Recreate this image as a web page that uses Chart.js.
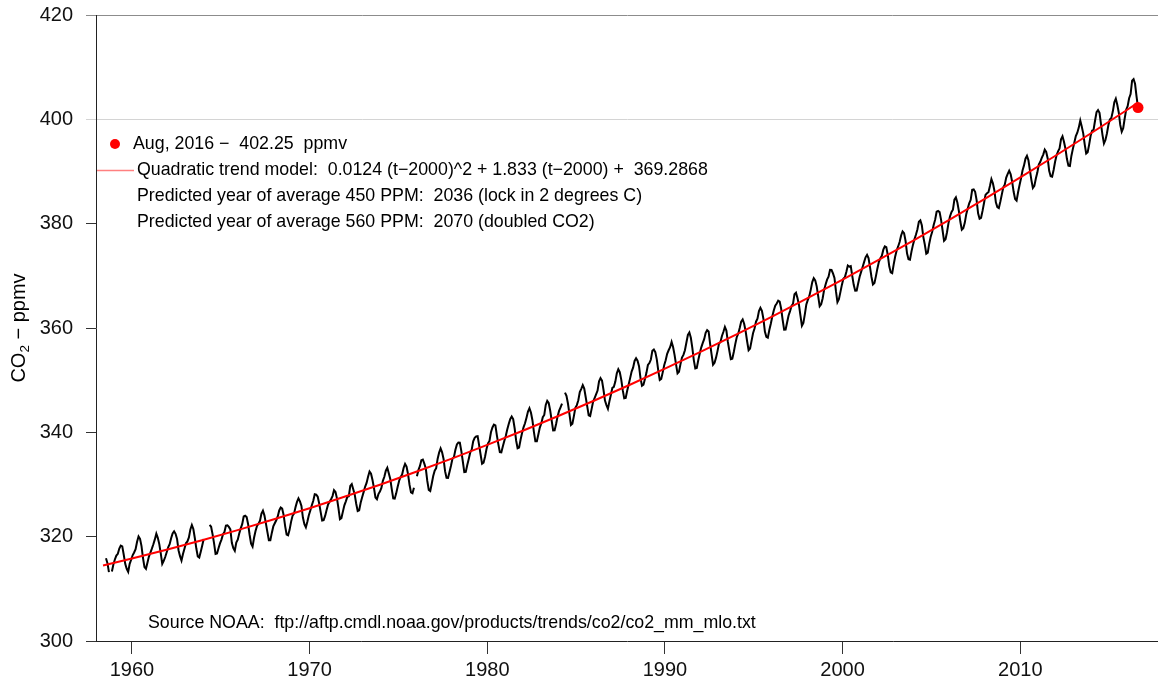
<!DOCTYPE html>
<html><head><meta charset="utf-8">
<script src="https://cdn.jsdelivr.net/npm/chart.js@4"></script>
<style>html,body{margin:0;padding:0;background:#fff;overflow:hidden}</style>
</head><body>
<canvas id="c" width="1158" height="686"></canvas>
<script>
// ---- data: Mauna Loa monthly mean CO2 (ppmv), starting Jul 1958; null = missing month
const firstYear = 1958, firstMonth = 7;
const co2_1958_59 = [315.86,314.93,313.20,null,313.33,314.67,
 315.62,316.38,316.71,317.72,318.29,318.15,316.54,314.80,313.84,313.26,314.80,315.58];
const co2_1960s = [
 316.43,316.97,317.58,319.02,320.03,319.59,318.18,315.91,314.16,313.83,315.00,316.19,
 316.93,317.70,318.54,319.48,320.58,319.77,318.57,316.79,314.80,315.38,316.10,317.01,
 317.94,318.56,319.68,320.63,321.01,320.55,319.58,317.40,316.26,315.42,316.69,317.69,
 318.74,319.08,319.86,321.39,322.25,321.47,319.74,317.77,316.21,315.99,317.12,318.31,
 319.57,null,null,null,322.24,321.89,320.44,318.70,316.70,316.79,317.79,318.71,
 319.44,320.44,320.89,322.13,322.16,321.87,321.39,318.81,317.81,317.30,318.87,319.42,
 320.62,321.59,322.39,323.87,324.01,323.75,322.39,320.37,318.64,318.10,319.79,321.08,
 322.07,322.50,323.04,324.42,325.00,324.09,322.55,320.92,319.31,319.31,320.72,321.96,
 322.57,323.15,323.89,325.02,325.57,325.36,324.14,322.03,320.41,320.25,321.31,322.84,
 324.00,324.42,325.64,326.66,327.34,326.76,325.88,323.67,322.38,321.78,322.85,324.11];
const co2_1970s = [
 325.03,325.99,326.87,328.13,328.07,327.66,326.35,324.69,323.10,323.16,323.98,325.13,
 326.17,326.68,327.18,327.78,328.92,328.57,327.34,325.46,323.36,323.57,324.80,326.01,
 326.77,327.63,327.75,329.72,330.07,329.09,328.05,326.32,324.93,325.06,326.50,327.55,
 328.54,329.56,330.30,331.50,332.48,332.07,330.87,329.31,327.51,327.18,328.16,328.64,
 329.35,330.71,331.48,332.65,333.20,332.16,331.07,329.12,327.32,327.28,328.30,329.58,
 330.73,331.46,331.90,333.17,333.94,333.45,331.97,329.95,328.50,328.34,329.37,null,
 331.59,332.75,333.52,334.64,334.77,334.00,333.06,330.68,328.95,328.75,330.15,331.62,
 332.66,333.13,334.95,336.13,336.93,336.17,334.88,332.56,331.29,331.27,332.41,333.60,
 334.95,335.25,336.66,337.69,338.03,338.01,336.41,334.41,332.37,332.41,333.75,334.90,
 336.14,336.69,338.27,338.96,339.21,339.26,337.54,335.75,333.98,334.19,335.31,336.81];
const co2_1980s = [
 337.90,338.34,340.01,340.93,341.48,341.33,339.40,337.70,336.19,336.15,337.27,338.32,
 339.29,340.55,341.61,342.53,343.03,342.54,340.78,338.44,336.95,337.08,338.58,339.88,
 340.96,341.73,342.81,343.97,344.63,343.79,342.32,340.09,338.28,338.29,339.60,340.90,
 341.68,342.90,343.33,345.25,346.03,345.63,344.19,342.27,340.35,340.38,341.59,343.05,
 344.10,344.79,345.52,null,347.63,346.98,345.53,343.55,341.40,341.67,343.10,344.70,
 345.21,346.16,347.74,348.34,349.06,348.38,346.72,345.02,343.27,343.13,344.49,345.88,
 346.56,347.28,348.01,349.77,350.38,349.93,348.16,346.08,345.22,344.51,345.93,347.22,
 348.52,348.73,349.73,351.31,352.09,351.53,350.11,348.08,346.52,346.59,347.96,349.16,
 350.39,351.64,352.41,353.69,354.21,353.72,352.69,350.40,348.92,349.13,350.20,351.41,
 352.91,353.27,353.96,355.64,355.86,355.37,353.99,351.81,350.05,350.25,351.49,352.85];
const co2_1990s = [
 353.80,355.04,355.73,356.32,357.32,356.34,354.84,353.01,351.31,351.62,353.07,354.33,
 354.84,355.73,357.23,358.66,359.13,358.13,356.19,353.85,352.25,352.35,353.81,355.12,
 356.25,357.11,357.86,359.09,359.59,359.33,357.01,354.94,352.96,353.32,354.32,355.57,
 357.00,357.31,358.47,359.27,360.19,359.52,357.33,355.64,354.03,354.12,355.41,356.91,
 358.24,358.92,359.99,361.23,361.65,360.81,359.38,357.46,355.73,356.07,357.53,358.98,
 359.92,361.21,361.77,363.23,363.86,363.30,361.78,359.33,358.32,358.14,359.61,360.82,
 362.20,363.36,364.28,364.69,365.25,365.06,363.69,361.55,359.69,359.72,361.04,362.39,
 363.24,364.21,364.65,366.49,366.77,365.73,364.46,362.40,360.44,360.98,362.65,364.51,
 365.39,366.10,367.36,368.79,369.56,369.13,367.98,366.10,364.16,364.54,365.67,367.30,
 368.35,369.28,369.84,371.15,371.12,370.46,369.61,367.06,364.95,365.52,366.88,368.26];
const co2_2000s = [
 369.45,369.71,370.75,371.98,371.75,371.87,370.02,368.27,367.15,367.18,368.53,369.83,
 370.76,371.69,372.63,373.55,374.03,373.40,371.68,369.78,368.34,368.61,369.94,371.42,
 372.70,373.37,373.85,375.02,375.65,375.50,374.00,371.83,370.66,370.51,372.20,373.71,
 374.87,375.63,376.48,377.74,378.50,378.18,376.72,374.31,373.20,373.10,374.64,375.93,
 377.00,377.87,378.88,380.35,380.62,379.69,377.47,376.01,374.25,374.46,376.16,377.51,
 378.46,379.73,380.77,382.29,382.45,382.21,380.74,378.74,376.70,377.00,378.35,380.11,
 381.38,382.19,382.67,384.61,385.03,384.05,382.46,380.41,378.85,379.13,380.15,381.82,
 382.89,383.90,384.58,386.50,386.56,386.10,384.50,381.99,380.96,381.12,382.45,383.95,
 385.52,385.82,386.03,387.21,388.54,387.76,386.36,384.09,383.18,382.99,384.19,385.56,
 386.94,387.48,388.82,389.55,390.14,389.48,388.03,386.11,384.74,384.43,386.02,387.42];
const co2_2010s = [
 388.71,390.20,391.17,392.46,393.00,392.15,390.20,388.35,386.85,387.24,388.67,389.79,
 391.33,391.86,392.60,393.25,394.19,393.74,392.51,390.13,389.08,389.00,390.28,391.86,
 393.12,393.86,394.40,396.18,396.74,395.71,394.36,392.39,391.11,391.05,392.98,394.34,
 395.55,396.80,397.43,398.41,399.78,398.61,397.32,395.20,393.45,393.70,395.16,396.84,
 397.85,398.01,399.77,401.38,401.78,401.25,399.10,397.03,395.38,396.03,397.28,398.91,
 399.98,400.28,401.54,403.28,403.96,402.80,401.31,398.93,397.63,398.29,400.16,401.85,
 402.52,404.04,404.83,407.42,407.70,406.81,404.39,402.25];

// quadratic trend curve values read at these dates
const trendX = [1958.375,1960,1962,1964,1966,1968,1970,1972,1974,1976,1978,1980,1982,1984,1986,1988,
 1990,1992,1994,1996,1998,2000,2002,2004,2006,2008,2010,2012,2014,2016,2016.625];
const trendY = [314.47,315.81,317.54,319.37,321.30,323.33,325.46,327.69,330.01,332.44,334.96,337.59,
 340.31,343.13,346.06,349.08,352.20,355.42,358.74,362.15,365.67,369.29,373.00,376.82,380.73,384.75,
 388.86,393.07,397.38,401.79,403.19];

const latestX = [2016.625], latestY = [402.25];
const xTicks = [1960,1970,1980,1990,2000,2010];
const yTicks = [300,320,340,360,380,400,420];

const legendLines = [
  "Aug, 2016 \u2212  402.25  ppmv",
  "Quadratic trend model:  0.0124 (t\u22122000)^2 + 1.833 (t\u22122000) +  369.2868",
  "Predicted year of average 450 PPM:  2036 (lock in 2 degrees C)",
  "Predicted year of average 560 PPM:  2070 (doubled CO2)"
];
const sourceText = "Source NOAA:  ftp://aftp.cmdl.noaa.gov/products/trends/co2/co2_mm_mlo.txt";

// ---- build
const series = [].concat(co2_1958_59, co2_1960s, co2_1970s, co2_1980s, co2_1990s, co2_2000s, co2_2010s);
const points = series.map((v, i) => {
  const m = firstMonth - 1 + i;
  return { x: firstYear + Math.floor(m / 12) + ((m % 12) + 0.5) / 12, y: v };
});
const trendPts = trendX.map((x, i) => ({ x, y: trendY[i] }));
const latestPts = latestX.map((x, i) => ({ x, y: latestY[i] }));

const FONT = '"Liberation Sans", Arial, Helvetica, sans-serif';

const annot = {
  id: 'annot',
  afterDraw(chart) {
    const ctx = chart.ctx;
    ctx.save();
    ctx.textBaseline = 'middle';
    ctx.textAlign = 'left';
    ctx.font = '17.8px ' + FONT;
    // legend
    ctx.beginPath();
    ctx.arc(115, 144, 5, 0, Math.PI * 2);
    ctx.fillStyle = '#ff0000';
    ctx.fill();
    ctx.strokeStyle = '#ff8080';
    ctx.lineWidth = 1.5;
    ctx.beginPath();
    ctx.moveTo(97, 170.5); ctx.lineTo(134, 170.5);
    ctx.stroke();
    ctx.fillStyle = '#000';
    ctx.fillText(legendLines[0], 133, 144);
    ctx.fillText(legendLines[1], 137, 170);
    ctx.fillText(legendLines[2], 137, 196);
    ctx.fillText(legendLines[3], 137, 222);
    ctx.fillText(sourceText, 148, 623);
    // y title with subscript
    ctx.translate(18, 328);
    ctx.rotate(-Math.PI / 2);
    const big = '20px ' + FONT, small = '13.5px ' + FONT;
    ctx.font = big; const w1 = ctx.measureText('CO').width;
    ctx.font = small; const w2 = ctx.measureText('2').width;
    ctx.font = big; const w3 = ctx.measureText(' \u2212 ppmv').width;
    let x0 = -(w1 + w2 + w3) / 2;
    ctx.textBaseline = 'alphabetic';
    ctx.font = big; ctx.fillText('CO', x0, 7);
    ctx.font = small; ctx.fillText('2', x0 + w1, 11);
    ctx.font = big; ctx.fillText(' \u2212 ppmv', x0 + w1 + w2, 7);
    ctx.restore();
  }
};

new Chart(document.getElementById('c'), {
  type: 'line',
  data: {
    datasets: [
      { label: 'latest', data: latestPts, showLine: false, pointRadius: 5.5, pointBackgroundColor: '#ff0000',
        pointBorderWidth: 0, pointBorderColor: '#ff0000', order: 0 },
      { label: 'trend', data: trendPts, borderColor: '#ff0000', borderWidth: 2, pointRadius: 0, tension: 0, order: 1 },
      { label: 'co2', data: points, borderColor: '#000000', borderWidth: 2, pointRadius: 0, tension: 0,
        spanGaps: false, order: 2 }
    ]
  },
  options: {
    responsive: false,
    animation: false,
    events: [],
    layout: { autoPadding: false, padding: { top: 15, right: 0, left: 0, bottom: 0 } },
    plugins: { legend: { display: false }, tooltip: { enabled: false } },
    scales: {
      x: {
        type: 'linear', min: 1957.98, max: 2017.75,
        afterBuildTicks: s => { s.ticks = xTicks.map(v => ({ value: v })); },
        afterFit: s => { s.height = 45; s.paddingLeft = 0; s.paddingRight = 0; },
        grid: { drawOnChartArea: false, drawTicks: true, tickLength: 13, tickColor: '#333' },
        border: { display: true, color: '#222', width: 1 },
        ticks: { font: { size: 20, family: FONT }, color: '#111', padding: 4, maxRotation: 0, autoSkip: false,
                 callback: v => String(v) }
      },
      y: {
        type: 'linear', min: 300, max: 420,
        afterBuildTicks: s => { s.ticks = yTicks.map(v => ({ value: v })); },
        afterFit: s => { s.width = 96; s.paddingTop = 0; s.paddingBottom = 0; },
        grid: {
          drawOnChartArea: true, drawTicks: true, tickLength: 10,
          color: c => c.tick && c.tick.value === 400 ? '#d4d4d4' : (c.tick && c.tick.value === 420 ? '#8c8c8c' : 'rgba(0,0,0,0)'),
          tickColor: c => c.tick && c.tick.value === 400 ? '#d4d4d4' : (c.tick && c.tick.value === 420 ? '#8c8c8c' : '#333')
        },
        border: { display: true, color: '#222', width: 1 },
        ticks: { font: { size: 20, family: FONT }, color: '#111', padding: 13, autoSkip: false,
                 callback: v => String(v) }
      }
    }
  },
  plugins: [annot]
});
</script>
</body></html>
